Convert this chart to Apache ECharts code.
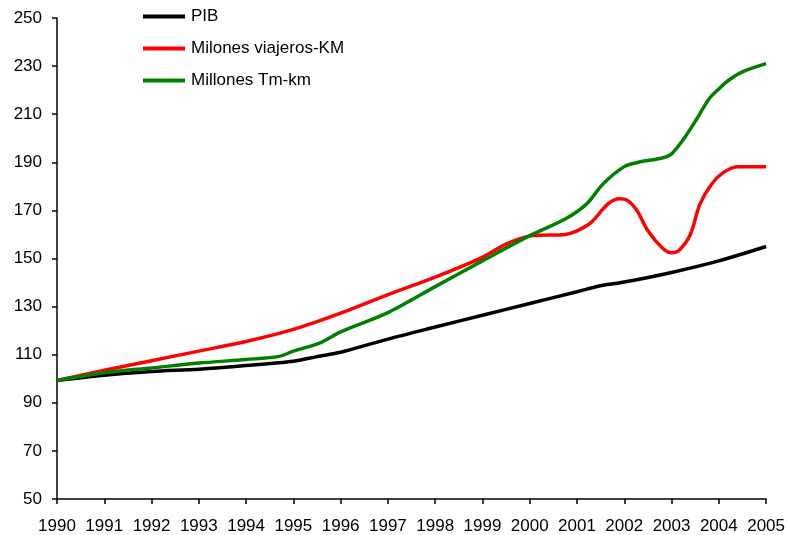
<!DOCTYPE html>
<html>
<head>
<meta charset="utf-8">
<script src="https://cdn.jsdelivr.net/npm/echarts@6/dist/echarts.min.js"></script>
<style>html,body{margin:0;padding:0;background:#fff}#c{width:788px;height:535px}</style>
</head>
<body>
<div id="c"></div>
<script>
var seriesNames = ['PIB', 'Milones viajeros-KM', 'Millones Tm-km'];
var pibYears = [1990, 1991, 1992, 1993, 1994, 1995, 1995.5, 1996, 1997, 1998, 1999, 2000, 2001, 2001.5, 2002, 2003, 2004, 2005];
var pibValues = [99.3, 101.5, 103, 104, 105.5, 107.3, 109.2, 111, 116.5, 121.5, 126.4, 131.3, 136.2, 138.7, 140.2, 144.2, 149, 155];
var viajYears = [1990, 1991, 1992, 1993, 1994, 1995, 1996, 1997, 1998, 1999, 1999.5, 2000, 2000.75, 2001, 2001.3, 2001.65, 2001.9, 2002, 2002.25, 2002.5, 2002.8, 2003, 2003.15, 2003.4, 2003.6, 2003.85, 2004.1, 2004.4, 2005];
var viajValues = [99.3, 103.5, 107.5, 111.5, 115.5, 120.5, 127.3, 135, 142.3, 150.5, 156, 159.3, 160, 161.5, 165, 172.6, 174.8, 174.7, 170.5, 161.5, 154.5, 152.4, 153.2, 160.1, 172.6, 181, 185.8, 188.2, 188.2];
var tmYears = [1990, 1991, 1992, 1993, 1994, 1994.7, 1995, 1995.55, 1996, 1997, 1998, 1999, 2000, 2000.75, 2001.2, 2001.55, 2002, 2002.3, 2002.8, 2003, 2003.25, 2003.5, 2003.8, 2004, 2004.2, 2004.5, 2005];
var tmValues = [99.3, 102.5, 104.5, 106.5, 108, 109.3, 111.5, 114.8, 119.5, 127.5, 138.3, 149, 159.5, 166.4, 172.6, 181, 188.2, 190, 191.8, 193.5, 199.5, 207, 216.5, 220.5, 224, 227.6, 231];
var colors = ['#000000', '#ff0000', '#008000'];

function pairs(xs, ys) { return xs.map(function (x, i) { return [x, ys[i]]; }); }

var chart = echarts.init(document.getElementById('c'));
var font = 'Liberation Sans, Arial, sans-serif';
var mkSeries = function (name, data, color) {
  return {
    name: name, type: 'line', data: data, smooth: 0.3, showSymbol: false, symbol: 'none',
    lineStyle: { color: color, width: 3.5 }, itemStyle: { color: color }, animation: false
  };
};
chart.setOption({
  animation: false,
  grid: { left: 57, right: 20, top: 18, bottom: 36 },
  legend: {
    orient: 'vertical', left: 143, top: 8, padding: 0, itemWidth: 42, itemHeight: 4, itemGap: 15,
    icon: 'rect',
    textStyle: { fontFamily: font, fontSize: 17, color: '#000', lineHeight: 17, padding: [0, 0, 0, 1] },
    data: seriesNames
  },
  xAxis: {
    type: 'value', min: 1990, max: 2005, interval: 1,
    axisLine: { lineStyle: { color: '#000', width: 1.5 } },
    axisTick: { show: true, length: 5, lineStyle: { color: '#000', width: 1.5 } },
    splitLine: { show: false },
    axisLabel: { color: '#000', fontFamily: font, fontSize: 17, margin: 19, formatter: function (v) { return String(v); } }
  },
  yAxis: {
    type: 'value', min: 50, max: 250, interval: 20,
    axisLine: { show: true, lineStyle: { color: '#000', width: 1.5 } },
    axisTick: { show: true, length: 5, lineStyle: { color: '#000', width: 1.5 } },
    splitLine: { show: false },
    axisLabel: { color: '#000', fontFamily: font, fontSize: 17, margin: 15 }
  },
  series: [
    mkSeries(seriesNames[0], pairs(pibYears, pibValues), colors[0]),
    mkSeries(seriesNames[1], pairs(viajYears, viajValues), colors[1]),
    mkSeries(seriesNames[2], pairs(tmYears, tmValues), colors[2])
  ]
});
</script>
</body>
</html>
